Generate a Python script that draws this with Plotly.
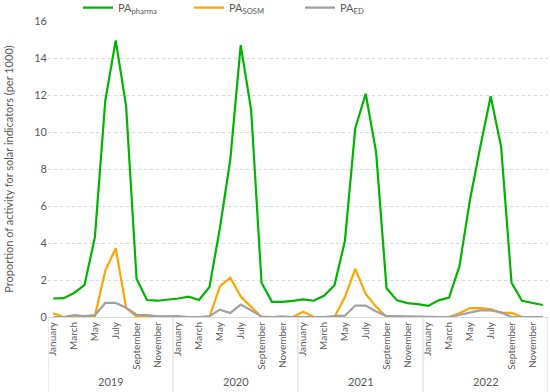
import plotly.graph_objects as go

years = ["2019", "2020", "2021", "2022"]
months = ["January", "February", "March", "April", "May", "June", "July",
          "August", "September", "October", "November", "December"]
shown_months = ["January", "March", "May", "July", "September", "November"]

pa_pharma = [1.0, 1.02, 1.3, 1.72, 4.3, 11.7, 14.95, 11.4, 2.07, 0.92, 0.88, 0.92,
             1.0, 1.1, 0.92, 1.62, 4.8, 8.5, 14.7, 11.2, 1.85, 0.82, 0.82, 0.87,
             0.95, 0.88, 1.15, 1.72, 4.1, 10.2, 12.07, 8.9, 1.55, 0.9, 0.75, 0.7,
             0.6, 0.9, 1.05, 2.75, 6.3, 9.2, 11.93, 9.2, 1.85, 0.88, 0.78, 0.65]
pa_sosm = [0.2, 0.0, 0.0, 0.0, 0.05, 2.5, 3.72, 0.5, 0.02, 0.0, 0.0, 0.0,
           0.0, 0.0, 0.0, 0.0, 1.65, 2.12, 1.1, 0.55, 0.0, 0.0, 0.0, 0.0,
           0.28, 0.0, 0.0, 0.0, 1.08, 2.6, 1.25, 0.55, 0.0, 0.0, 0.0, 0.0,
           0.0, 0.0, 0.0, 0.2, 0.48, 0.48, 0.43, 0.22, 0.22, 0.0, 0.0, 0.0]
pa_ed = [0.0, 0.0, 0.1, 0.05, 0.1, 0.76, 0.76, 0.5, 0.12, 0.1, 0.03, 0.03,
         0.05, 0.0, 0.0, 0.05, 0.4, 0.22, 0.67, 0.36, 0.02, 0.0, 0.03, 0.0,
         0.0, 0.0, 0.0, 0.05, 0.07, 0.62, 0.62, 0.3, 0.05, 0.05, 0.03, 0.0,
         0.0, 0.0, 0.0, 0.13, 0.23, 0.36, 0.36, 0.25, 0.0, 0.0, 0.0, 0.0]

labels = [f"{m} {y}" for y in years for m in months]
xs = list(range(len(labels)))

FONT = "Lato"
TXT = "#595959"

fig = go.Figure()
fig.add_trace(go.Scatter(x=xs, y=pa_pharma, mode="lines", name="PA<sub>pharma</sub>",
                         line=dict(color="#00B400", width=2.2)))
fig.add_trace(go.Scatter(x=xs, y=pa_sosm, mode="lines", name="PA<sub>SOSM</sub>",
                         line=dict(color="#FFA500", width=2.2)))
fig.add_trace(go.Scatter(x=xs, y=pa_ed, mode="lines", name="PA<sub>ED</sub>",
                         line=dict(color="#A0A0A0", width=2.2)))

tickvals = [i for i, l in enumerate(labels) if l.split()[0] in shown_months]
ticktext = [labels[i].split()[0] for i in tickvals]

n = len(months)
for k, y in enumerate(years):
    fig.add_annotation(x=k * n + (n - 1) / 2, y=-0.218, xref="x", yref="paper",
                       yanchor="middle", xanchor="center",
                       text=y, showarrow=False, font=dict(family=FONT, size=11, color=TXT))
for k in range(len(years) + 1):
    fig.add_shape(type="line", x0=k * n - 0.5, x1=k * n - 0.5, xref="x",
                  y0=0, y1=-0.255, yref="paper", line=dict(color="#D9D9D9", width=1))

fig.update_layout(
    width=550, height=392,
    margin=dict(l=48, r=2, t=21, b=75, autoexpand=False),
    paper_bgcolor="white", plot_bgcolor="white",
    font=dict(family=FONT, color=TXT),
    showlegend=True,
    legend=dict(orientation="h", x=0.06, xanchor="left", y=1.045, yanchor="middle",
                font=dict(family=FONT, size=11, color=TXT), entrywidth=66,
                bgcolor="rgba(0,0,0,0)"),
    xaxis=dict(range=[-0.5, len(xs) - 0.5], tickmode="array", tickvals=tickvals,
               ticktext=ticktext, tickangle=-90, showgrid=False, showline=True,
               linecolor="#D9D9D9", linewidth=1, ticks="", zeroline=False,
               automargin=False,
               tickfont=dict(family=FONT, size=10, color=TXT)),
    yaxis=dict(range=[0, 16], dtick=2, showgrid=True, gridcolor="#D9D9D9",
               griddash="3px,3px", zeroline=False, showline=False, ticks="",
               automargin=False,
               tickfont=dict(family=FONT, size=11, color=TXT),
               title=dict(text="Proportion of activity for solar indicators (per 1000)",
                          font=dict(family=FONT, size=11, color=TXT), standoff=18)),
)

fig.write_html("out.html", config={"displayModeBar": False},
               post_script="document.body.style.margin='0';")
